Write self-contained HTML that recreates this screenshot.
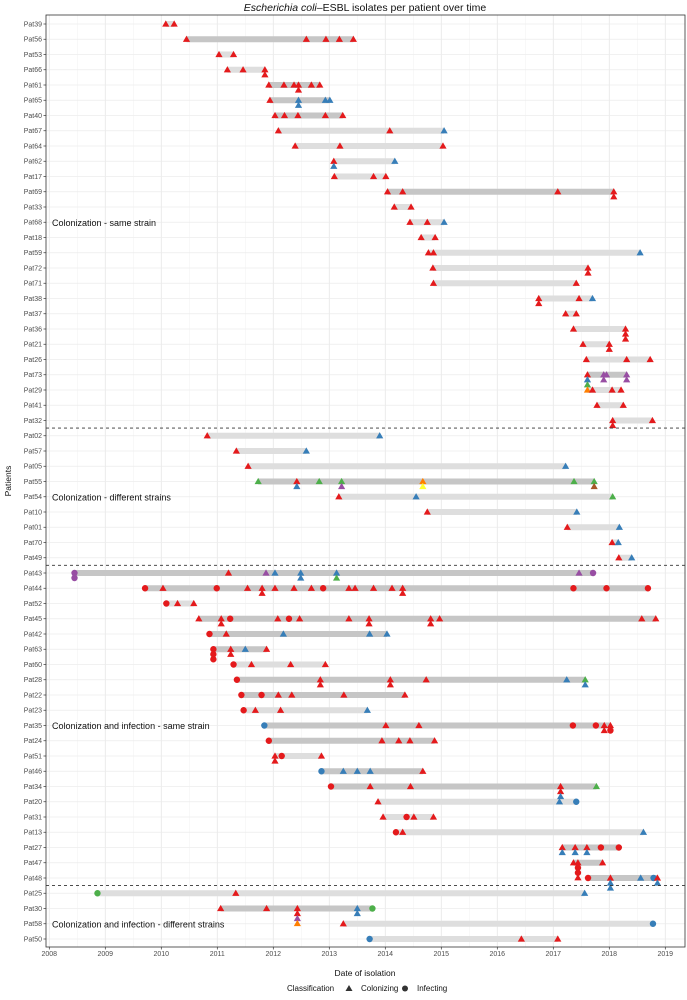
<!DOCTYPE html>
<html><head><meta charset="utf-8">
<style>
body{margin:0;background:#fff;}
svg{display:block;font-family:"Liberation Sans",sans-serif;}
</style></head>
<body>
<svg id="chart" width="687" height="1000" viewBox="0 0 687 1000">
<text x="365" y="11" text-anchor="middle" font-size="10.5" fill="#111"><tspan font-style="italic">Escherichia coli</tspan>–ESBL isolates per patient over time</text>
<g id="grid"></g>
<g id="bars"></g>
<g id="marks"></g>
<g id="axes"></g>
<text x="365" y="976" text-anchor="middle" font-size="8.5" fill="#111">Date of isolation</text>
<text transform="translate(11,481) rotate(-90)" text-anchor="middle" font-size="8.5" fill="#111">Patients</text>
<g>
<text x="287" y="991" font-size="8" fill="#111">Classification</text>
<polygon points="349,985 345.5,991 352.5,991" fill="#333"/>
<text x="361" y="991" font-size="8" fill="#111">Colonizing</text>
<circle cx="405" cy="988.5" r="3" fill="#333"/>
<text x="417" y="991" font-size="8" fill="#111">Infecting</text>
</g>
</svg>
<script>
const patients=["Pat39","Pat56","Pat53","Pat66","Pat61","Pat65","Pat40","Pat67","Pat64","Pat62","Pat17","Pat69","Pat33","Pat68","Pat18","Pat59","Pat72","Pat71","Pat38","Pat37","Pat36","Pat21","Pat26","Pat73","Pat29","Pat41","Pat32",
"Pat02","Pat57","Pat05","Pat55","Pat54","Pat10","Pat01","Pat70","Pat49",
"Pat43","Pat44","Pat52","Pat45","Pat42","Pat63","Pat60","Pat28","Pat22","Pat23","Pat35","Pat24","Pat51","Pat46","Pat34","Pat20","Pat31","Pat13","Pat27","Pat47","Pat48",
"Pat25","Pat30","Pat58","Pat50"];
const groupLabels=["Colonization - same strain","Colonization - different strains","Colonization and infection - same strain","Colonization and infection - different strains"];
const groupLabelRows=["Pat68","Pat54","Pat35","Pat58"];
const groupBreakAfter=["Pat32","Pat49","Pat48"];
const xTicks=[2008,2009,2010,2011,2012,2013,2014,2015,2016,2017,2018,2019];
// isolates per patient: "date:colour+shape" (r,b,g,p,o,y,n = red,blue,green,purple,orange,yellow,brown; t=colonizing, c=infecting)
const isolates={
Pat39:["2010.08:rt","2010.23:rt"],
Pat56:["2010.45:rt","2012.59:rt","2012.94:rt","2013.18:rt","2013.43:rt"],
Pat53:["2011.03:rt","2011.29:rt"],
Pat66:["2011.18:rt","2011.46:rt","2011.85:rt","2011.85:rt"],
Pat61:["2011.92:rt","2012.19:rt","2012.37:rt","2012.45:rt","2012.45:rt","2012.68:rt","2012.83:rt"],
Pat65:["2011.94:rt","2012.45:bt","2012.45:bt","2012.93:bt","2013.01:bt"],
Pat40:["2012.03:rt","2012.2:rt","2012.44:rt","2012.93:rt","2013.24:rt"],
Pat67:["2012.09:rt","2014.08:rt","2015.05:bt"],
Pat64:["2012.39:rt","2013.19:rt","2015.03:rt"],
Pat62:["2013.08:rt","2013.08:bt","2014.17:bt"],
Pat17:["2013.09:rt","2013.79:rt","2014.01:rt"],
Pat69:["2014.04:rt","2014.31:rt","2017.08:rt","2018.08:rt","2018.08:rt"],
Pat33:["2014.16:rt","2014.46:rt"],
Pat68:["2014.44:rt","2014.75:rt","2015.05:bt"],
Pat18:["2014.64:rt","2014.89:rt"],
Pat59:["2014.77:rt","2014.86:rt","2018.55:bt"],
Pat72:["2014.85:rt","2017.62:rt","2017.62:rt"],
Pat71:["2014.86:rt","2017.41:rt"],
Pat38:["2016.74:rt","2016.74:rt","2017.46:rt","2017.7:bt"],
Pat37:["2017.22:rt","2017.41:rt"],
Pat36:["2017.36:rt","2018.29:rt","2018.29:rt","2018.29:rt"],
Pat21:["2017.53:rt","2018.0:rt","2018.0:rt"],
Pat26:["2017.59:rt","2018.31:rt","2018.73:rt"],
Pat73:["2017.61:rt","2017.61:bt","2017.61:gt","2017.9:pt","2017.9:pt","2017.95:pt","2018.31:pt","2018.31:pt"],
Pat29:["2017.61:ot","2017.7:rt","2018.05:rt","2018.21:rt"],
Pat41:["2017.78:rt","2018.25:rt"],
Pat32:["2018.06:rt","2018.06:rt","2018.77:rt"],
Pat02:["2010.82:rt","2013.9:bt"],
Pat57:["2011.34:rt","2012.59:bt"],
Pat05:["2011.55:rt","2017.22:bt"],
Pat55:["2011.73:gt","2012.42:rt","2012.42:bt","2012.82:gt","2013.22:gt","2013.22:pt","2014.67:ot","2014.67:yt","2017.37:gt","2017.73:gt","2017.73:nt"],
Pat54:["2013.17:rt","2014.55:bt","2018.06:gt"],
Pat10:["2014.75:rt","2017.42:bt"],
Pat01:["2017.25:rt","2018.18:bt"],
Pat70:["2018.05:rt","2018.16:bt"],
Pat49:["2018.17:rt","2018.4:bt"],
Pat43:["2008.45:pc","2008.45:pc","2011.2:rt","2011.87:pt","2012.03:bt","2012.49:bt","2012.49:bt","2013.13:bt","2013.13:gt","2017.46:pt","2017.71:pc"],
Pat44:["2009.71:rc","2010.03:rt","2010.99:rc","2011.54:rt","2011.8:rt","2011.8:rt","2012.03:rt","2012.37:rt","2012.68:rt","2012.89:rc","2013.35:rt","2013.46:rt","2013.79:rt","2014.12:rt","2014.31:rt","2014.31:rt","2017.36:rc","2017.95:rc","2018.69:rc"],
Pat52:["2010.09:rc","2010.29:rt","2010.58:rt"],
Pat45:["2010.67:rt","2011.07:rt","2011.07:rt","2011.23:rc","2012.08:rt","2012.28:rc","2012.47:rt","2013.35:rt","2013.71:rt","2013.71:rt","2014.81:rt","2014.81:rt","2014.97:rt","2018.58:rt","2018.83:rt"],
Pat42:["2010.86:rc","2011.16:rt","2012.18:bt","2013.72:bt","2014.03:bt"],
Pat63:["2010.93:rc","2010.93:rc","2010.93:rc","2011.24:rt","2011.24:rt","2011.5:bt","2011.88:rt"],
Pat60:["2011.29:rc","2011.61:rt","2012.31:rt","2012.93:rt"],
Pat28:["2011.35:rc","2012.84:rt","2012.84:rt","2014.09:rt","2014.09:rt","2014.73:rt","2017.24:bt","2017.57:gt","2017.57:bt"],
Pat22:["2011.43:rc","2011.79:rc","2012.09:rt","2012.33:rt","2013.26:rt","2014.35:rt"],
Pat23:["2011.47:rc","2011.68:rt","2012.13:rt","2013.68:bt"],
Pat35:["2011.84:bc","2014.01:rt","2014.6:rt","2017.35:rc","2017.76:rc","2017.91:rt","2017.91:rt","2018.02:rt","2018.02:rc"],
Pat24:["2011.92:rc","2013.94:rt","2014.24:rt","2014.44:rt","2014.88:rt"],
Pat51:["2012.03:rt","2012.03:rt","2012.15:rc","2012.86:rt"],
Pat46:["2012.86:bc","2013.25:bt","2013.5:bt","2013.73:bt","2014.67:rt"],
Pat34:["2013.03:rc","2013.73:rt","2014.45:rt","2017.13:rt","2017.13:rt","2017.13:bt","2017.77:gt"],
Pat20:["2013.87:rt","2017.11:bt","2017.41:bc"],
Pat31:["2013.96:rt","2014.38:rc","2014.51:rt","2014.86:rt"],
Pat13:["2014.19:rc","2014.31:rt","2018.61:bt"],
Pat27:["2017.16:rt","2017.16:bt","2017.39:rt","2017.39:bt","2017.6:rt","2017.6:bt","2017.85:rc","2018.17:rc"],
Pat47:["2017.36:rt","2017.44:rt","2017.44:rc","2017.44:rc","2017.44:rt","2017.88:rt"],
Pat48:["2017.62:rc","2018.02:rt","2018.02:bt","2018.02:bt","2018.56:bt","2018.79:bc","2018.86:rt","2018.86:bt"],
Pat25:["2008.86:gc","2011.33:rt","2017.56:bt"],
Pat30:["2011.06:rt","2011.88:rt","2012.43:rt","2012.43:rt","2012.43:pt","2012.43:ot","2013.5:bt","2013.5:bt","2013.77:gc"],
Pat58:["2013.25:rt","2018.78:bc"],
Pat50:["2013.72:bc","2016.43:rt","2017.08:rt"]
};
const colours={r:"#e41a1c",b:"#377eb8",g:"#4daf4a",p:"#984ea3",o:"#ff7f00",y:"#ffff33",n:"#a65628"};

const NS="http://www.w3.org/2000/svg";
const L=46,R=685,T=15,B=947;
function xs(v){return 49.3+(v-2008)*56;}
function ys(i){return 24+i*15.25;}
function mk(tag,attrs,parent){const e=document.createElementNS(NS,tag);for(const k in attrs)e.setAttribute(k,attrs[k]);parent.appendChild(e);return e;}
const grid=document.getElementById('grid'),bars=document.getElementById('bars'),marks=document.getElementById('marks'),axes=document.getElementById('axes');

const bg=mk('rect',{x:L,y:T,width:R-L,height:B-T,fill:'#fff'},grid);


for(let i=0;i<xTicks.length;i++){
  const t=xTicks[i];
  if(i<xTicks.length-1){const m=mk('line',{x1:xs(t+0.5),x2:xs(t+0.5),y1:T,y2:B,stroke:'#f2f2f2','stroke-width':0.6},grid);
  
  }
  const g=mk('line',{x1:xs(t),x2:xs(t),y1:T,y2:B,stroke:'#e6e6e6','stroke-width':0.8},grid);
  
  
  const tk=mk('line',{x1:xs(t),x2:xs(t),y1:B,y2:B+2.5,stroke:'#333','stroke-width':0.7},axes);
  
  
  const lb=mk('text',{x:xs(t),y:B+9,'text-anchor':'middle','font-size':7,fill:'#4d4d4d'},axes);
  lb.textContent=t;
  
  
}
patients.forEach((p,i)=>{
  const y=ys(i);
  const g=mk('line',{x1:L,x2:R,y1:y,y2:y,stroke:'#ececec','stroke-width':0.8},grid);
  
  
  const tk=mk('line',{x1:L-2.5,x2:L,y1:y,y2:y,stroke:'#333','stroke-width':0.7},axes);
  
  
  const lb=mk('text',{x:L-4,y:y+2.4,'text-anchor':'end','font-size':7,fill:'#4d4d4d'},axes);
  lb.textContent=p;
  
  
  const iso=(isolates[p]||[]).map(s=>{const a=s.split(':');return {d:parseFloat(a[0]),c:a[1][0],s:a[1][1]};});
  const ds=iso.map(o=>o.d);const mn=Math.min(...ds),mx=Math.max(...ds);
  const bar=mk('rect',{x:xs(mn),y:y-3,width:Math.max(0,xs(mx)-xs(mn)),height:6,fill:iso.length>=5?'#c6c6c6':'#dedede'},bars);
  
  
  const cnt={};
  iso.forEach(o=>{
    const k=o.d.toFixed(2);const n=cnt[k]||0;cnt[k]=n+1;
    const cx=xs(o.d),cy=y+n*5,col=colours[o.c];
    let e;
    if(o.s==='t'){e=mk('polygon',{points:`${cx},${cy-3.6} ${cx-3.6},${cy+2.6} ${cx+3.6},${cy+2.6}`,fill:col},marks);
      }
    else{e=mk('circle',{cx:cx,cy:cy,r:3.2,fill:col},marks);
      }
    
  });
});
groupLabelRows.forEach((p,i)=>{
  const lb=mk('text',{x:52,y:ys(patients.indexOf(p))+3.5,'font-size':9,fill:'#111'},axes);
  lb.textContent=groupLabels[i];
  
  
});
groupBreakAfter.forEach(p=>{
  const y=ys(patients.indexOf(p))+7.6;
  const l=mk('line',{x1:L,x2:687,y1:y,y2:y,stroke:'#333','stroke-width':0.9,'stroke-dasharray':'3,3'},axes);
  
  
});
const fr=mk('rect',{x:L,y:T,width:R-L,height:B-T,fill:'none',stroke:'#333','stroke-width':0.8},axes);


</script>
</body></html>
